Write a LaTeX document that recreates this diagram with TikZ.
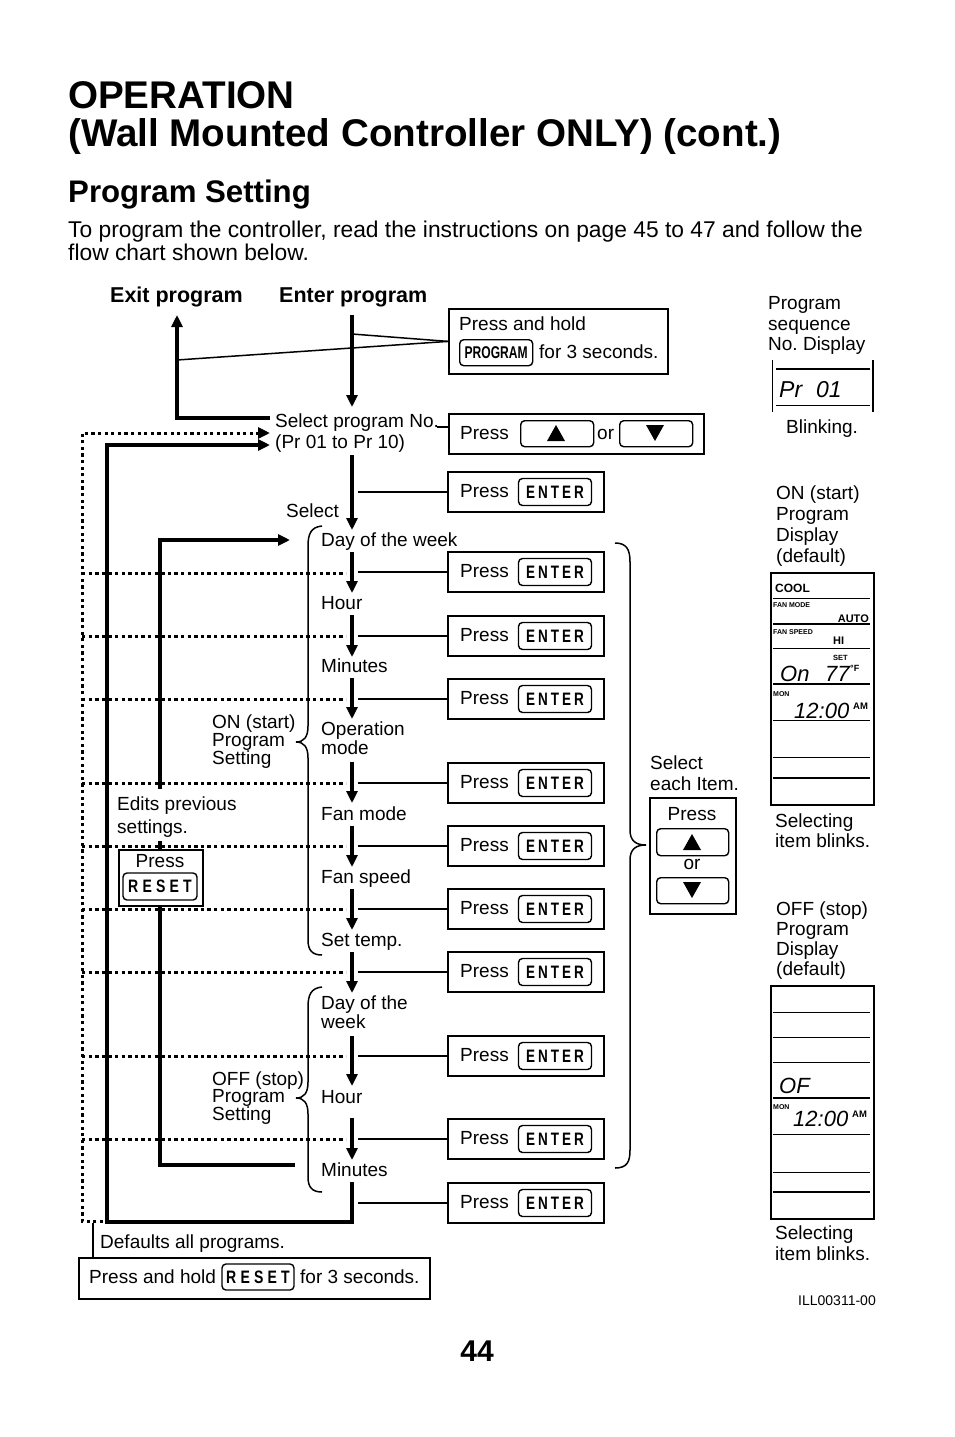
\documentclass[tikz,border=0pt]{standalone}
\usepackage{fontspec}
\usepackage{graphicx}
\setmainfont{Liberation Sans}
\usetikzlibrary{arrows.meta}
\newcommand\myfs[1]{\fontsize{#1}{#1}\selectfont}
\newcommand\keyE{\scalebox{0.75}[1]{\myfs{18}\bfseries\addfontfeature{LetterSpace=22}ENTE\removelastskip R}}
\newcommand\keyR{\scalebox{0.78}[1]{\myfs{18}\bfseries\addfontfeature{LetterSpace=30}RESET}}
\newcommand\keyP{\scalebox{0.71}[1]{\myfs{17}\bfseries PROGRAM}}
\begin{document}
\frenchspacing
\begin{tikzpicture}[x=1pt,y=-1pt,
  txt/.style={anchor=base west,inner sep=0pt,font=\myfs{19}},
  txtc/.style={anchor=base,inner sep=0pt,font=\myfs{19}},
  boxn/.style={draw,line width=1.8pt,inner sep=0pt,anchor=north west},
  keyn/.style={draw,rounded corners=4pt,line width=1.4pt,inner sep=0pt},
  spine/.style={line width=3.3pt},
  arr/.style={-{Triangle[length=12pt,width=11pt]}},
  dots/.style={line width=3pt,dash pattern=on 3.3pt off 3.3pt},
  conn/.style={line width=1.5pt},
  thinl/.style={line width=1pt},
  thickl/.style={line width=2.2pt},
  lcd/.style={anchor=base west,inner sep=0pt,font=\myfs{22}\itshape},
  tiny/.style={anchor=base west,inner sep=0pt,font=\myfs{7}\bfseries},
  small/.style={anchor=base west,inner sep=0pt,font=\myfs{12}\bfseries},
  brace/.style={line width=1.5pt}
]
\useasboundingbox (0,0) rectangle (954,1437);

% ---------- headings ----------
\node[anchor=base west,inner sep=0pt,font=\myfs{38.6}\bfseries] (t1) at (68,108) {OPERATION};
\node[anchor=base west,inner sep=0pt,font=\myfs{38.6}\bfseries] (t2) at (68,146) {(Wall Mounted Controller ONLY) (cont.)};
\node[anchor=base west,inner sep=0pt,font=\myfs{31.2}\bfseries] (t3) at (68,202) {Program Setting};
\node[anchor=base west,inner sep=0pt,font=\myfs{22.8}] (p1) at (68,237) {To program the controller, read the instructions on page 45 to 47 and follow the};
\node[anchor=base west,inner sep=0pt,font=\myfs{22.8}] (p2) at (68,260) {flow chart shown below.};
\node[anchor=base west,inner sep=0pt,font=\myfs{21.5}\bfseries] (exit) at (110,302) {Exit program};
\node[anchor=base west,inner sep=0pt,font=\myfs{21.5}\bfseries] (enter) at (279,302) {Enter program};

% ---------- top boxes ----------
\node[boxn,minimum width=219pt,minimum height=65pt] (bprog) at (448,308) {};
\node[txt] (bprogt1) at (459,330) {Press and hold};
\node[keyn,anchor=north west,minimum width=73pt,minimum height=26pt] (kprog) at (459,339) {\keyP};
\node[txt] (bprogt2) at (539,358) {for 3 seconds.};

\node[boxn,minimum width=255pt,minimum height=40pt] (bud) at (448,413) {};
\node[txt] (budt) at (460,439) {Press};
\node[keyn,anchor=north west,minimum width=73pt,minimum height=26pt] (kup) at (520,420) {};
\node[txt] (budor) at (597,439) {or};
\node[keyn,anchor=north west,minimum width=73pt,minimum height=26pt] (kdn) at (619,420) {};
\fill (547,441) -- (565,441) -- (556,425) -- cycle;
\fill (646,425) -- (664,425) -- (655,441) -- cycle;

% lines from PROGRAM box
\coordinate (sp1) at (352,334);
\coordinate (ex1) at (177,360);
\draw[conn] (bprog.west) -- (sp1);
\draw[conn] (bprog.west) -- (ex1);
\coordinate (sel) at (437,427);
\draw[conn] (sel) -- (448,427);

% ---------- ENTER boxes ----------
\foreach \y [count=\i] in {492,572,636,699,783,846,909,972,1056,1139,1203}{
  \node[draw,line width=1.8pt,inner sep=0pt,minimum width=156pt,minimum height=40pt] (e\i) at (526,\y) {};
  \node[txt] at (460,\y+5) {Press};
  \node[keyn,minimum width=73pt,minimum height=27pt] (ke\i) at (555,\y) {\keyE};
  \draw[conn] (358,\y) -- (e\i.west);
}
\foreach \y in {573,636,699,783,846,909,972,1056,1139}{
  \draw[dots] (82,\y) -- (346,\y);
}

% ---------- spine ----------
\draw[spine,arr] (352,315) -- (352,407);
\foreach \a/\b in {455/530,552/593,615/657,678/719,762/803,826/867,889/930,952/993,1036/1086,1118/1160}{
  \draw[spine,arr] (352,\a) -- (352,\b);
}
% exit
\draw[spine,arr] (270,418) -- (177,418) -- (177,315);
% outer solid loop
\draw[spine,arr] (352,1182) -- (352,1222) -- (107,1222) -- (107,445) -- (270,445);
% inner solid loop
\draw[spine,arr] (295,1165) -- (160,1165) -- (160,540) -- (290,540);
% dotted loop
\draw[dots,arr] (103,1221) -- (82,1221) -- (82,433) -- (270,433);
\draw[conn] (93,1223) -- (93,1257);

% ---------- flow texts ----------
\node[txt] (n0) at (275,427) {Select program No.};
\node[txt] (n0b) at (275,448) {(Pr 01 to Pr 10)};
\node[txt] (nsel) at (286,517) {Select};
\node[txt] (n1) at (321,546) {Day of the week};
\node[txt] (n2) at (321,609) {Hour};
\node[txt] (n3) at (321,672) {Minutes};
\node[txt] (n4) at (321,735) {Operation};
\node[txt] (n4b) at (321,754) {mode};
\node[txt] (n5) at (321,820) {Fan mode};
\node[txt] (n6) at (321,883) {Fan speed};
\node[txt] (n7) at (321,946) {Set temp.};
\node[txt] (n8) at (321,1009) {Day of the};
\node[txt] (n8b) at (321,1028) {week};
\node[txt] (n9) at (321,1103) {Hour};
\node[txt] (n10) at (321,1176) {Minutes};

\node[txt] (on1) at (212,728) {ON (start)};
\node[txt] (on2) at (212,746) {Program};
\node[txt] (on3) at (212,764) {Setting};
\node[txt] (of1) at (212,1085) {OFF (stop)};
\node[txt] (of2) at (212,1102) {Program};
\node[txt] (of3) at (212,1120) {Setting};

% braces
\draw[brace] (322,526) .. controls (311,527) and (308,534) .. (308,546) -- (308,726)
  .. controls (308,737) and (304,742) .. (296,742) .. controls (304,742) and (308,747) .. (308,758)
  -- (308,940) .. controls (308,950) and (312,955) .. (322,955);
\draw[brace] (322,987) .. controls (311,988) and (308,995) .. (308,1007) -- (308,1082)
  .. controls (308,1093) and (304,1098) .. (296,1098) .. controls (304,1098) and (308,1103) .. (308,1114)
  -- (308,1177) .. controls (308,1187) and (312,1192) .. (322,1192);
\draw[brace] (615,543) .. controls (627,543) and (630,550) .. (630,562) -- (630,830)
  .. controls (630,841) and (636,845) .. (646,845) .. controls (636,845) and (630,849) .. (630,860)
  -- (630,1150) .. controls (630,1162) and (627,1168) .. (615,1168);

% ---------- RESET boxes ----------
\fill[white] (115,789) rectangle (240,841);
\node[txt] (edit1) at (117,810) {Edits previous};
\node[txt] (edit2) at (117,833) {settings.};
\node[boxn,fill=white,minimum width=84pt,minimum height=56pt] (breset) at (118,849) {};
\node[txtc] (bresett) at (160,867) {Press};
\node[keyn,minimum width=74pt,minimum height=27pt] (kreset) at (160,886.5) {\keyR};

\node[txt] (defl) at (100,1248) {Defaults all programs.};
\node[boxn,minimum width=351pt,minimum height=41pt] (bhold) at (78,1257) {};
\node[txt] (bholdt1) at (89,1283) {Press and hold};
\node[keyn,minimum width=72pt,minimum height=26pt] (kreset2) at (258,1277) {\keyR};
\node[txt] (bholdt2) at (300,1283) {for 3 seconds.};

% ---------- select each item ----------
\node[txt] (sei1) at (650,769) {Select};
\node[txt] (sei2) at (650,790) {each Item.};
\node[boxn,minimum width=86pt,minimum height=116pt] (bsel) at (649,797) {};
\node[txtc] (bselt) at (692,820) {Press};
\node[keyn,anchor=north west,minimum width=72pt,minimum height=27pt] (ksu) at (656,828) {};
\node[txtc] (bselor) at (692,869) {or};
\node[keyn,anchor=north west,minimum width=72pt,minimum height=26pt] (ksd) at (656,877) {};
\fill (683,850) -- (701,850) -- (692,834) -- cycle;
\fill (683,882) -- (701,882) -- (692,898) -- cycle;

% ---------- right column ----------
\node[txt] (r1) at (768,309) {Program};
\node[txt] (r2) at (768,330) {sequence};
\node[txt] (r3) at (768,350) {No. Display};
\draw[thinl] (772,360) -- (772,412);
\draw[thickl] (873,360) -- (873,412);
\draw[thickl] (776,369) -- (870,369);
\draw[thinl] (776,405) -- (870,405);
\node[lcd,font=\myfs{23}\itshape] (pr) at (779,397) {Pr\hspace{14pt}01};
\node[txt] (blink) at (786,433) {Blinking.};

\node[txt] (o1) at (776,499) {ON (start)};
\node[txt] (o2) at (776,520) {Program};
\node[txt] (o3) at (776,541) {Display};
\node[txt] (o4) at (776,562) {(default)};
\node[draw,line width=1.6pt,inner sep=0pt,anchor=north west,minimum width=103pt,minimum height=232pt] (don) at (770,572) {};
\draw[thinl] (773,598) -- (870,598);
\draw[thickl] (773,624) -- (870,624);
\draw[thinl] (773,648) -- (870,648);
\draw[thickl] (773,684) -- (870,684);
\draw[thinl] (773,720) -- (870,720);
\draw[thinl] (773,757) -- (870,757);
\draw[thickl] (773,778) -- (870,778);
\node[small] (cool) at (775,592) {COOL};
\node[tiny] (fm) at (773,607) {FAN MODE};
\node[small,anchor=base east,font=\myfs{11}\bfseries] (auto) at (869,622) {AUTO};
\node[tiny] (fsp) at (773,634) {FAN SPEED};
\node[small,font=\myfs{11}\bfseries] (hi) at (833,644) {HI};
\node[tiny,font=\myfs{7.5}\bfseries] (set) at (833,660) {SET};
\node[lcd] (onx) at (780,681) {On};
\node[lcd] (t77) at (825,681) {77};
\node[tiny,font=\myfs{9}\bfseries] (degf) at (850,671) {°F};
\node[tiny,font=\myfs{7}\bfseries] (mon1) at (773,696) {MON};
\node[lcd] (c1) at (794,718) {12:00};
\node[tiny,font=\myfs{9.5}\bfseries] (am1) at (853,709) {AM};
\node[txt] (s1) at (775,827) {Selecting};
\node[txt] (s2) at (775,847) {item blinks.};

\node[txt] (f1) at (776,915) {OFF (stop)};
\node[txt] (f2) at (776,935) {Program};
\node[txt] (f3) at (776,955) {Display};
\node[txt] (f4) at (776,975) {(default)};
\node[draw,line width=1.6pt,inner sep=0pt,anchor=north west,minimum width=103pt,minimum height=233pt] (doff) at (770,985) {};
\draw[thinl] (773,1012) -- (870,1012);
\draw[thinl] (773,1037) -- (870,1037);
\draw[thinl] (773,1062) -- (870,1062);
\draw[thickl] (773,1098) -- (870,1098);
\draw[thinl] (773,1134) -- (870,1134);
\draw[thinl] (773,1172) -- (870,1172);
\draw[thickl] (773,1192) -- (870,1192);
\node[lcd] (ofx) at (779,1093) {OF};
\node[tiny,font=\myfs{7}\bfseries] (mon2) at (773,1109) {MON};
\node[lcd] (c2) at (793,1126) {12:00};
\node[tiny,font=\myfs{9.5}\bfseries] (am2) at (852,1117) {AM};
\node[txt] (s3) at (775,1239) {Selecting};
\node[txt] (s4) at (775,1260) {item blinks.};

\node[anchor=base west,inner sep=0pt,font=\myfs{14}] (ill) at (798,1305) {ILL00311-00};
\node[anchor=base,inner sep=0pt,font=\myfs{30}\bfseries] (pg) at (477,1361) {44};
\end{tikzpicture}
\end{document}
